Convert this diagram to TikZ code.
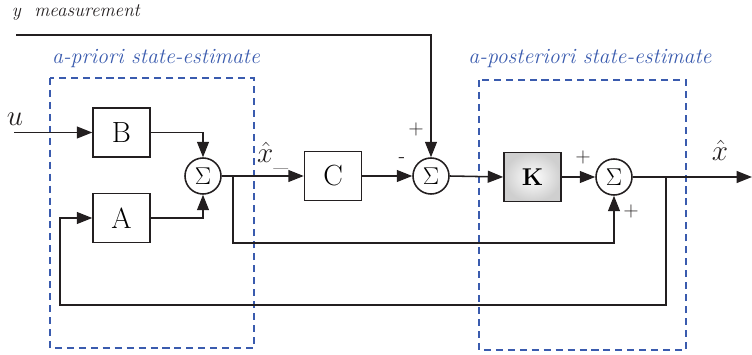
\documentclass[tikz,border=0pt]{standalone}
\usepackage{amsmath,amssymb}
\usepackage{xcolor}
\usepackage{tikz}
\usetikzlibrary{calc,arrows.meta}
\definecolor{ink}{HTML}{231F20}
\definecolor{grpblue}{HTML}{3A5BAE}
\definecolor{kgray}{HTML}{CFCFCF}
\tikzset{
  wire/.style={draw=ink, line width=1.1pt},
  arr/.style={wire, -{Triangle[length=11pt,width=8.5pt]}},
  blk/.style={draw=ink, line width=1.1pt, minimum width=1.425cm, minimum height=1.225cm, inner sep=0pt, font=\huge},
  gain/.style={blk, inner color=white, outer color=kgray, font=\LARGE\bfseries},
  sum/.style={circle, draw=ink, line width=1.1pt, minimum size=0.9cm, inner sep=0pt, font=\LARGE},
  grp/.style={draw=grpblue, line width=1pt, dash pattern=on 5pt off 3.5pt},
  grplab/.style={text=grpblue, font=\fontsize{15.5}{18}\selectfont\itshape},
  sgn/.style={text=ink, font=\Large},
  lab/.style={text=ink, font=\huge},
}
\begin{document}
\begin{tikzpicture}[x=0.025cm, y=-0.025cm]
  \useasboundingbox (0,0) rectangle (752,355);
  % blocks
  \node[blk] (B) at (121.5,132.5) {B};
  \node[blk] (A) at (121.5,218) {A};
  \node[blk] (C) at (333,176) {C};
  \node[gain] (K) at (532.5,177) {K};
  \node[sum] (s1) at (203,176) {$\Sigma$};
  \node[sum] (s2) at (431,176) {$\Sigma$};
  \node[sum] (s3) at (614,177) {$\Sigma$};

  % free ends and bends
  \coordinate (uin) at (14,132.5);
  \coordinate (ytop) at (16,35);
  \coordinate (xout) at (752,177);
  \coordinate (j1) at (233,176);
  \coordinate (f1) at (614,243);
  \coordinate (j2) at (666,177);
  \coordinate (f2) at (60,305);

  % groups
  \draw[grp] (50,78) rectangle (254,348);
  \draw[grp] (479,80) rectangle (686,350);
  \node[grplab] (gpri) at (156,59) {a-priori state-estimate};
  \node[grplab] (gpost) at (590,59) {a-posteriori state-estimate};

  % signals
  \draw[arr] (uin) -- (B.west);
  \draw[arr] (B.east) -| (s1.north);
  \draw[arr] (A.east) -| (s1.south);
  \draw[arr] (s1.east) -- (C.west);
  \draw[arr] (C.east) -- (s2.west);
  \draw[arr] (ytop) -| (s2.north);
  \draw[arr] (s2.east) -- (K.west);
  \draw[arr] (K.east) -- (s3.west);
  \draw[arr] (s3.east) -- (xout);
  \draw[arr] (j1) |- (f1) -- (s3.south);
  \draw[arr] (j2) |- (f2) |- (A.west);

  % labels
  \node[text=ink, font=\fontsize{13.5}{16}\selectfont\itshape, anchor=west] (ymeas) at (7,13) {y\ \ measurement};
  \node[lab] (ulab) at (15,119) {$u$};
  \node[lab] (xm) at (273,156) {$\hat{x}_{\_}$};
  \node[lab] (xh) at (720,150) {$\hat{x}$};
  \node[sgn] (p2) at (416,129) {+};
  \node[sgn] (m2) at (402,160) {-};
  \node[sgn] (p3a) at (583,157) {+};
  \node[sgn] (p3b) at (631,211) {+};
\end{tikzpicture}
\end{document}
